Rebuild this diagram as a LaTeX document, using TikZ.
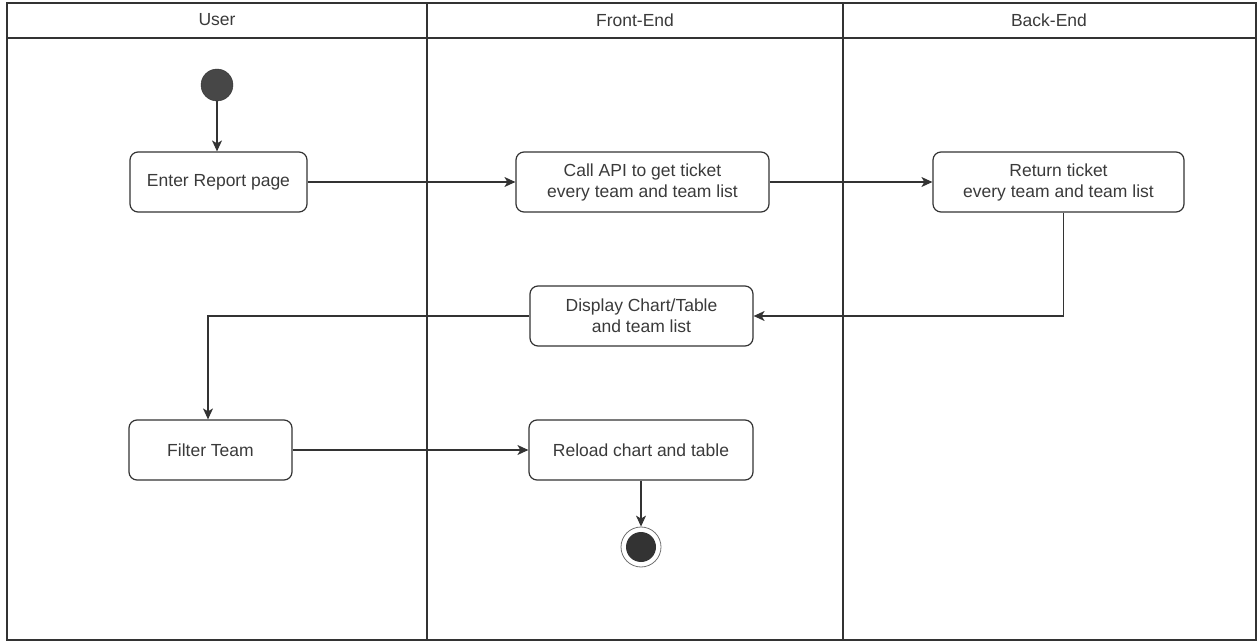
\documentclass[tikz,border=0pt]{standalone}
\usepackage{fontspec}
\setmainfont{Liberation Sans}
\usetikzlibrary{arrows.meta}
\definecolor{ink}{HTML}{333333}
\definecolor{txt}{HTML}{3A3A3A}
\tikzset{
  act/.style={draw=ink, line width=1.2pt, rounded corners=8pt, align=center,
    inner sep=0pt, text=txt, font=\fontsize{17.5}{21}\selectfont},
  lanehead/.style={text=txt, font=\fontsize{17.5}{21}\selectfont},
  flow/.style={draw=ink, line width=1.2pt, -{Stealth[length=11pt,width=10pt,inset=3pt]}},
  lane/.style={draw=ink, line width=1.3pt},
}
\begin{document}
\begin{tikzpicture}[x=1pt,y=-1pt]
\useasboundingbox (0,0) rectangle (1259,644);
% frame and lanes
\draw[lane, line width=1.6pt] (7,3) rectangle (1256,640);
\draw[lane] (7,38) -- (1256,38);
\draw[lane] (427,3) -- (427,640);
\draw[lane] (843,3) -- (843,640);
\node[lanehead] (hU) at (217,20) {User};
\node[lanehead] (hF) at (635,20) {Front-End};
\node[lanehead] (hB) at (1049,20) {Back-End};
% nodes
\node[circle, fill=ink!90, draw=ink, minimum size=32pt, inner sep=0pt] (start) at (217,85) {};
\node[act, minimum width=177pt, minimum height=60pt] (enter) at (218.5,182) {Enter Report page};
\node[act, minimum width=253pt, minimum height=60pt] (call) at (642.5,182) {Call API to get ticket\\every team and team list};
\node[act, minimum width=251pt, minimum height=60pt] (ret) at (1058.5,182) {Return ticket\\every team and team list};
\node[act, minimum width=223pt, minimum height=60pt] (disp) at (641.5,316) {Display Chart/Table\\and team list};
\node[act, minimum width=163pt, minimum height=60pt] (filter) at (210.5,450) {Filter Team};
\node[act, minimum width=224pt, minimum height=60pt] (reload) at (641,450) {Reload chart and table};
\node[circle, draw=ink!70, line width=0.8pt, minimum size=40pt, inner sep=0pt] (endo) at (641,547) {};
\node[circle, fill=ink, minimum size=30pt, inner sep=0pt] (endi) at (641,547) {};
% connectors
\draw[flow] (start.south) -- (start.south |- enter.north);
\draw[flow] (enter.east) -- (call.west);
\draw[flow] (call.east) -- (ret.west);
\draw[flow] ([xshift=5pt]ret.south) |- (disp.east);
\draw[flow] (disp.west) -| ([xshift=-2.5pt]filter.north);
\draw[flow] (filter.east) -- (reload.west);
\draw[flow] (reload.south) -- (endo.north);
\end{tikzpicture}
\end{document}
